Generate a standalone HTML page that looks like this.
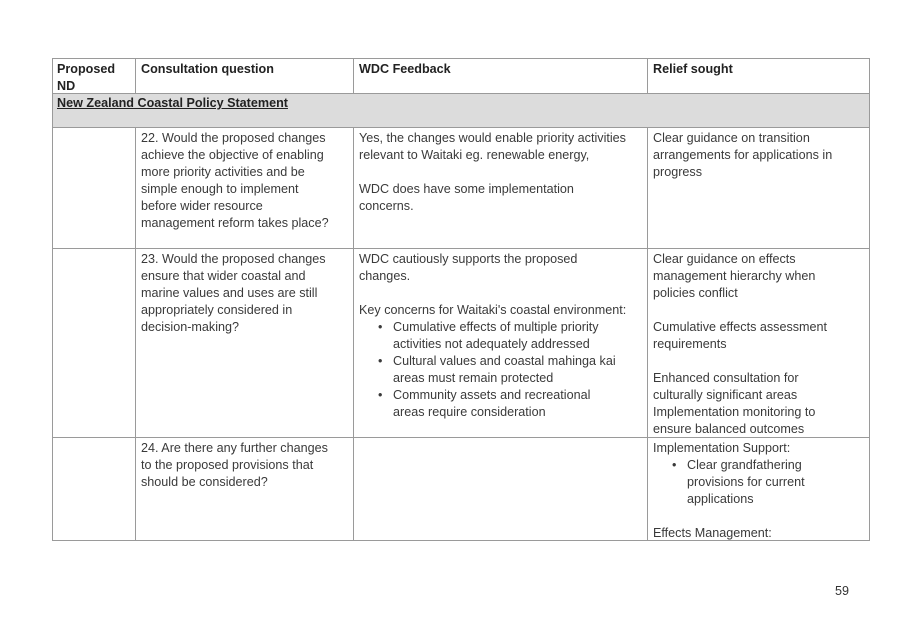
<!DOCTYPE html>
<html><head><meta charset="utf-8"><style>
body{margin:0;width:907px;height:626px;background:#fff;position:relative;font-family:"Liberation Sans",sans-serif;font-size:12.6px;color:#3a3a3a;overflow:hidden}
.t{position:absolute;line-height:17px;white-space:nowrap}
.b{font-weight:bold;color:#222}
.h{position:absolute;height:1px;background:#9a9a9a}
.v{position:absolute;width:1px;background:#9a9a9a}
ul{margin:0;padding:0;list-style:none}
li{position:relative;padding-left:17px}
li:before{content:"•";position:absolute;left:2px}
</style></head><body>
<div style="position:absolute;left:52px;top:93px;width:817px;height:34px;background:#dcdcdc"></div>
<div class="h" style="left:52px;top:58px;width:818px"></div>
<div class="h" style="left:52px;top:93px;width:818px"></div>
<div class="h" style="left:52px;top:127px;width:818px"></div>
<div class="h" style="left:52px;top:248px;width:818px"></div>
<div class="h" style="left:52px;top:437px;width:818px"></div>
<div class="h" style="left:52px;top:540px;width:818px"></div>
<div class="v" style="left:52px;top:58px;height:483px"></div>
<div class="v" style="left:869px;top:58px;height:483px"></div>
<div class="v" style="left:135px;top:58px;height:35px"></div>
<div class="v" style="left:353px;top:58px;height:35px"></div>
<div class="v" style="left:647px;top:58px;height:35px"></div>
<div class="v" style="left:135px;top:127px;height:413px"></div>
<div class="v" style="left:353px;top:127px;height:413px"></div>
<div class="v" style="left:647px;top:127px;height:413px"></div>

<div class="t b" style="left:57px;top:61px">Proposed<br>ND</div>
<div class="t b" style="left:141px;top:61px">Consultation question</div>
<div class="t b" style="left:359px;top:61px">WDC Feedback</div>
<div class="t b" style="left:653px;top:61px">Relief sought</div>
<div class="t b" style="left:57px;top:95px;text-decoration:underline">New Zealand Coastal Policy Statement</div>

<div class="t" style="left:141px;top:130px">22. Would the proposed changes<br>achieve the objective of enabling<br>more priority activities and be<br>simple enough to implement<br>before wider resource<br>management reform takes place?</div>
<div class="t" style="left:359px;top:130px">Yes, the changes would enable priority activities<br>relevant to Waitaki eg. renewable energy,<br><br>WDC does have some implementation<br>concerns.</div>
<div class="t" style="left:653px;top:130px">Clear guidance on transition<br>arrangements for applications in<br>progress</div>

<div class="t" style="left:141px;top:251px">23. Would the proposed changes<br>ensure that wider coastal and<br>marine values and uses are still<br>appropriately considered in<br>decision-making?</div>
<div class="t" style="left:359px;top:251px">WDC cautiously supports the proposed<br>changes.<br><br>Key concerns for Waitaki's coastal environment:
<ul style="margin-left:17px"><li>Cumulative effects of multiple priority<br>activities not adequately addressed</li><li>Cultural values and coastal mahinga kai<br>areas must remain protected</li><li>Community assets and recreational<br>areas require consideration</li></ul></div>
<div class="t" style="left:653px;top:251px">Clear guidance on effects<br>management hierarchy when<br>policies conflict<br><br>Cumulative effects assessment<br>requirements<br><br>Enhanced consultation for<br>culturally significant areas<br>Implementation monitoring to<br>ensure balanced outcomes</div>

<div class="t" style="left:141px;top:440px">24. Are there any further changes<br>to the proposed provisions that<br>should be considered?</div>
<div class="t" style="left:653px;top:440px">Implementation Support:
<ul style="margin-left:17px"><li>Clear grandfathering<br>provisions for current<br>applications</li></ul><br>Effects Management:</div>

<div class="t" style="left:835px;top:583px;color:#333">59</div>
</body></html>
